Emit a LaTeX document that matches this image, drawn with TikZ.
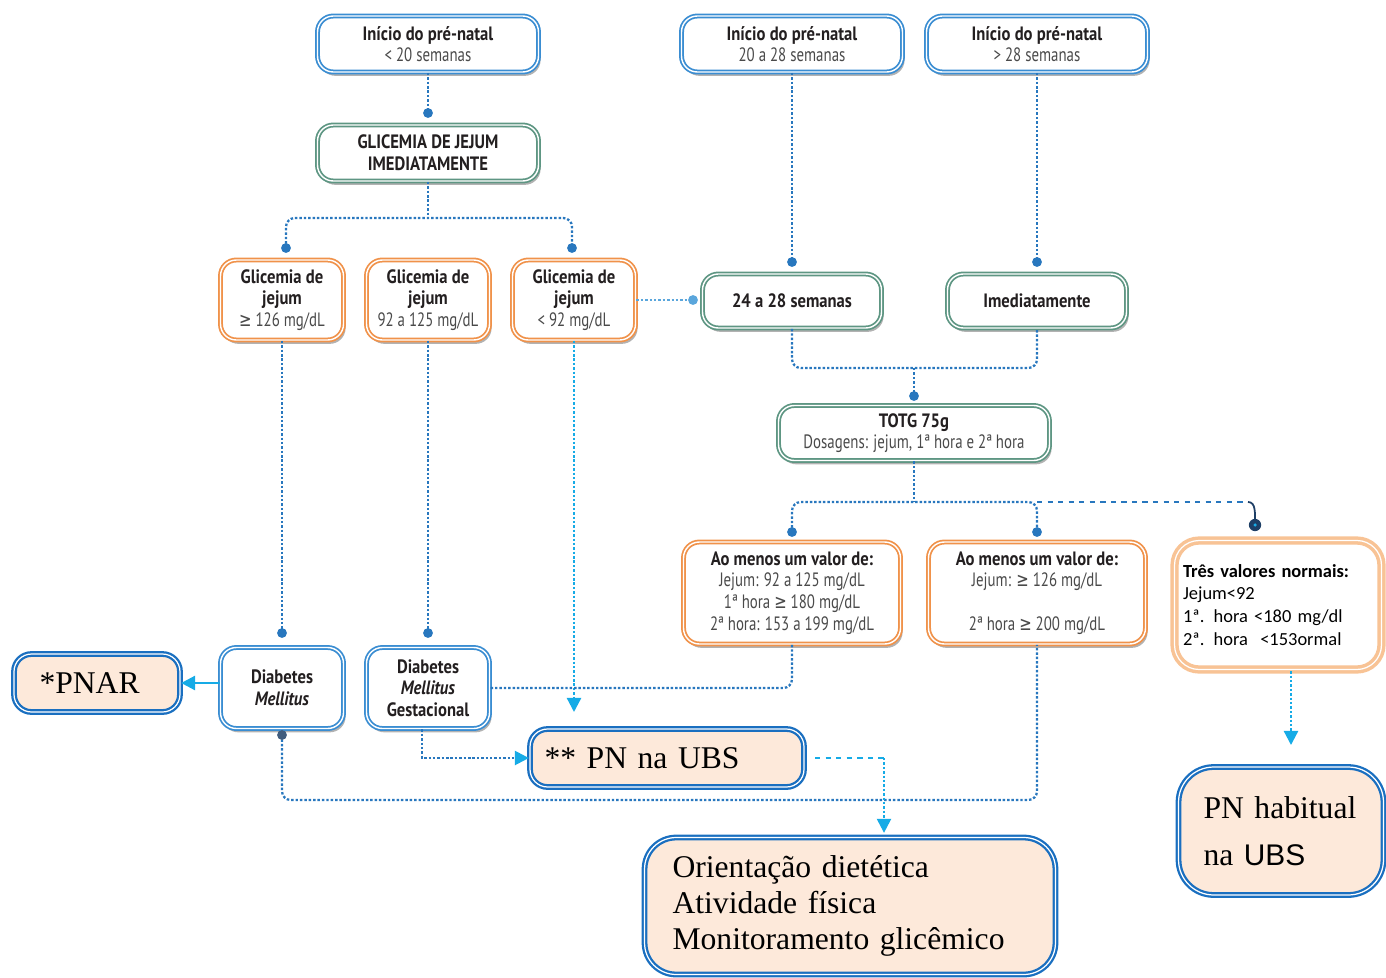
\documentclass[tikz,border=0pt]{standalone}
\usepackage{fontspec}
\setmainfont{Liberation Serif}
\newfontfamily\condsf{PT Sans}[FakeStretch=0.86]
\newfontfamily\condlt{PT Sans}[FakeStretch=0.77]
\newfontfamily\symsf{DejaVu Sans}[FakeStretch=0.77]
\newfontfamily\calib{Carlito}
\newfontfamily\arialf{Liberation Sans}
\usepackage{xcolor}
\usetikzlibrary{arrows.meta,shadows}
\definecolor{bxblue}{HTML}{3A8DD2}
\definecolor{bxorange}{HTML}{F0924A}
\definecolor{bxgreen}{HTML}{5E9683}
\definecolor{bxpeach}{HTML}{FDE9DA}
\definecolor{bxdeep}{HTML}{1A6FC0}
\definecolor{bxsoft}{HTML}{F8C395}
\definecolor{lnkblue}{HTML}{2877BE}
\definecolor{lnklight}{HTML}{5AA6DC}
\definecolor{lnkcyan}{HTML}{16ABE6}
\definecolor{lnkdark}{HTML}{1E3F66}
\definecolor{txtdark}{HTML}{231F20}
\definecolor{txtgray}{HTML}{4A4A4A}
\newcommand{\smallf}{\condsf\fontsize{11}{12.3}\selectfont}
\newcommand{\bigf}{\fontsize{18}{20.6}\selectfont}
\newcommand{\geqs}{{\symsf ≥}}
\newcommand{\gr}[1]{{\condlt\color{txtgray}#1}}

\begin{document}
\begin{tikzpicture}[x=0.02cm,y=-0.02cm,>={Triangle[width=8pt,length=8pt]}]
\tikzset{
    box/.style={%
        rectangle, rounded corners=9pt,
        fill=white, line width=1pt,
        double=white, double distance=0.8pt,
        align=center, inner sep=1pt,
        text=txtdark, font=\smallf,
        drop shadow={shadow xshift=1.2pt, shadow yshift=-2.2pt, opacity=0.5, fill=black!60}
        },
    bl/.style={box, draw=bxblue},
    gn/.style={box, draw=bxgreen},
    og/.style={box, draw=bxorange},
    pc/.style={%
        rectangle, rounded corners=10pt,
        draw=bxdeep, line width=1.3pt,
        double=white, double distance=0.7pt,
        fill=bxpeach, align=left, font=\bigf
        },
    lnk/.style={draw=lnkblue, line width=1.3pt, dash pattern=on 1.4pt off 1.1pt},
    lnkc/.style={lnk, draw=lnkcyan},
    tipc/.style={-{Triangle[width=8pt,length=8pt,color=lnkcyan]}},
}
\useasboundingbox (0,0) rectangle (1386,977);
%%%START
\node[bl, minimum width=4.42cm, minimum height=1.12cm] (a1) at (428,44) {\textbf{Início do pré-natal}\\\gr{< 20 semanas}};
\node[bl, minimum width=4.42cm, minimum height=1.12cm] (a2) at (792,44) {\textbf{Início do pré-natal}\\\gr{20 a 28 semanas}};
\node[bl, minimum width=4.42cm, minimum height=1.12cm] (a3) at (1037,44) {\textbf{Início do pré-natal}\\\gr{> 28 semanas}};
\node[gn, minimum width=4.42cm, minimum height=1.12cm] (g) at (428,153) {\textbf{GLICEMIA DE JEJUM}\\\textbf{IMEDIATAMENTE}};
%%%FASTING GLUCOSE
\node[og, minimum width=2.46cm, minimum height=1.6cm] (o1) at (282,300) {\textbf{Glicemia de}\\\textbf{jejum}\\\gr{\geqs{} 126 mg/dL}};
\node[og, minimum width=2.46cm, minimum height=1.6cm] (o2) at (428,300) {\textbf{Glicemia de}\\\textbf{jejum}\\\gr{92 a 125 mg/dL}};
\node[og, minimum width=2.46cm, minimum height=1.6cm] (o3) at (574,300) {\textbf{Glicemia de}\\\textbf{jejum}\\\gr{< 92 mg/dL}};
\node[gn, minimum width=3.58cm, minimum height=1.08cm] (s1) at (792,301) {\textbf{24 a 28 semanas}};
\node[gn, minimum width=3.58cm, minimum height=1.08cm] (s2) at (1037,301) {\textbf{Imediatamente}};
\node[gn, minimum width=5.42cm, minimum height=1.1cm] (t) at (914,433) {\textbf{TOTG 75g}\\\gr{Dosagens: jejum, 1ª hora e 2ª hora}};
%%%TOTG RESULTS
\node[og, minimum width=4.34cm, minimum height=2.04cm] (r1) at (792,593) {\textbf{Ao menos um valor de:}\\\gr{Jejum: 92 a 125 mg/dL}\\\gr{1ª hora \geqs{} 180 mg/dL}\\\gr{2ª hora: 153 a 199 mg/dL}};
\node[og, minimum width=4.34cm, minimum height=2.04cm] (r2) at (1037,593) {\textbf{Ao menos um valor de:}\\\gr{Jejum: \geqs{} 126 mg/dL}\\\mbox{}\\\gr{2ª hora \geqs{} 200 mg/dL}};
\node[rectangle, rounded corners=14pt, draw=bxsoft, line width=2pt, double=white, double distance=0.7pt,
      fill=white, minimum width=4.14cm, minimum height=2.58cm, text width=3.8cm, align=left,
      font=\calib\fontsize{10.5}{13}\selectfont, text=black] (r3) at (1278,605)
      {\textbf{Três valores normais:}\\Jejum<92\\1ª. hora <180 mg/dl\\2ª. hora \ <153ormal};
%%%DIAGNOSIS
\node[bl, minimum width=2.46cm, minimum height=1.62cm] (dm) at (282,688) {\textbf{Diabetes}\\\textbf{\textit{Mellitus}}};
\node[bl, minimum width=2.46cm, minimum height=1.62cm] (dmg) at (428,688) {\textbf{Diabetes}\\\textbf{\textit{Mellitus}}\\\textbf{Gestacional}};
\node[pc, minimum width=3.32cm, minimum height=1.16cm, text width=2.3cm, inner xsep=0.5cm] (pnar) at (97,683) {*PNAR};
\node[pc, minimum width=5.48cm, minimum height=1.16cm, text width=4.9cm, inner xsep=0.29cm] (ubs) at (667,758) {** PN na UBS};
\node[pc, rounded corners=18pt, minimum width=8.22cm, minimum height=2.74cm, text width=7.1cm, inner xsep=0.55cm] (ori) at (850,906)
      {Orientação dietética\\Atividade física\\Monitoramento glicêmico};
\node[pc, rounded corners=20pt, minimum width=4.04cm, minimum height=2.56cm, text width=3.1cm, inner xsep=0.5cm,
      font=\fontsize{18}{27}\selectfont] (hab) at (1281,831) {PN habitual\\na {\arialf\fontsize{17}{27}\selectfont UBS}};
%%%POINTS
\coordinate (p1) at (428,113);
\coordinate (p2) at (286,248);
\coordinate (p3) at (572,248);
\coordinate (p4) at (693,300);
\coordinate (p5) at (792,262);
\coordinate (p6) at (1037,262);
\coordinate (p7) at (914,396);
\coordinate (p8) at (792,532);
\coordinate (p9) at (1037,532);
\coordinate (p10) at (1255,525);
\coordinate (p11) at (282,633);
\coordinate (p12) at (428,633);
\coordinate (p13) at (282,735);
\coordinate (j1) at (428,218);
\coordinate (j2) at (914,368);
\coordinate (j3) at (914,502);
\coordinate (j4) at (1248,502);
\coordinate (j5) at (884,800);
\coordinate (j6) at (884,758);
\coordinate (q1) at (574,712);
\coordinate (q2) at (1291,745);
%%%LINKS
\draw[lnk] (a1.south) -- (p1);
\draw[lnk] (g.south) -- (j1);
\draw[lnk, rounded corners=5pt] (p2) |- (j1) -| (p3);
\draw[lnk, draw=lnklight] (o3.east) -- (p4);
\draw[lnk] (a2.south) -- (p5);
\draw[lnk] (a3.south) -- (p6);
\draw[lnk, rounded corners=5pt] (s1.south) |- (j2) -| (s2.south);
\draw[lnk] (j2) -- (p7);
\draw[lnk] (t.south) -- (j3);
\draw[lnk, rounded corners=5pt] (p8) |- (j3) -| (p9);
\draw[lnkblue, line width=1.1pt, dashed] (p9 |- j3) -- (j4);
\draw[lnkdark, line width=1pt] (j4) .. controls +(8,0) and +(0,-12) .. (p10);
\draw[lnk] (o1.south) -- (p11);
\draw[lnk] (o2.south) -- (p12);
\draw[lnkc, tipc] (o3.south) -- (q1);
\draw[lnk, rounded corners=5pt] (r1.south) |- (dmg.east);
\draw[lnkcyan, line width=1.5pt, tipc] (pnar.east -| dm.west) -- (pnar.east);
\draw[lnk, rounded corners=5pt] (p13) |- (j5) -| (r2.south);
\draw[lnk, tipc] ([xshift=-0.12cm]dmg.south) |- (ubs.west);
\draw[lnkcyan, line width=1.1pt, dashed] ([xshift=0.2cm]ubs.east) -- (j6);
\draw[lnkc, tipc, shorten >=2pt] (j6) -- (j6 |- ori.north);
\draw[lnkc, tipc] (r3.south -| q2) -- (q2);
%%%DOTS
\foreach \p in {p1,p2,p3,p5,p6,p7,p8,p9,p11,p12}
    \fill[lnkblue] (\p) circle (2.8pt);
\fill[lnklight] (p4) circle (2.8pt);
\fill[lnkdark!85] (p13) circle (2.8pt);
\fill[lnkdark] (p10) circle (3.5pt);
\fill[lnkcyan] (p10) circle (1pt);
\end{tikzpicture}
\end{document}
